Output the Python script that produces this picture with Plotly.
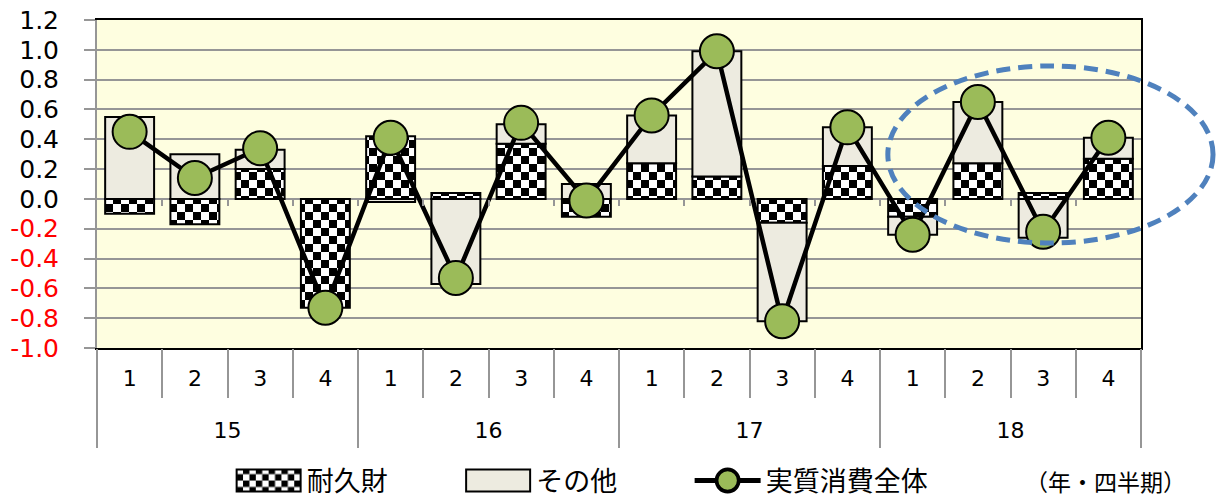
import plotly.graph_objects as go

# Quarterly contributions to real consumption growth (% pt)
years = ["15", "16", "17", "18"]
quarters = ["1", "2", "3", "4"]
durables = [-0.10, -0.17, 0.20, -0.73, 0.42, 0.04, 0.37, -0.12,
            0.24, 0.15, -0.16, 0.22, -0.12, 0.24, 0.04, 0.27]
others = [0.55, 0.30, 0.13, 0.00, -0.02, -0.57, 0.13, 0.10,
          0.32, 0.84, -0.66, 0.26, -0.12, 0.41, -0.26, 0.14]
total = [0.45, 0.14, 0.34, -0.73, 0.41, -0.53, 0.51, -0.01,
         0.56, 0.99, -0.82, 0.48, -0.24, 0.65, -0.22, 0.41]
y_ticks = [-1.0, -0.8, -0.6, -0.4, -0.2, 0.0, 0.2, 0.4, 0.6, 0.8, 1.0, 1.2]

n_q = len(quarters)
idx = list(range(len(years) * n_q))
q_text = [quarters[i % n_q] for i in idx]
bounds = [i - 0.5 for i in range(len(idx) + 1)]
year_bounds = [j * n_q - 0.5 for j in range(len(years) + 1)]
year_mid = [j * n_q + (n_q - 1) / 2 for j in range(len(years))]
x_range = [-0.5, len(idx) - 0.5]
y_range = [y_ticks[0], y_ticks[-1]]
zero_pos = (0 - y_range[0]) / (y_range[1] - y_range[0])

GRID = "#969696"
font_num = "DejaVu Sans"
font_jp = "Noto Sans CJK JP"
PAD = "\u3000\u3000\u2002"  # trailing spacing between legend entries

fig = go.Figure()
fig.add_trace(go.Bar(
    x=idx, y=durables, name="耐久財" + PAD, width=0.75,
    marker=dict(color="#ffffff",
                line=dict(color="#000000", width=2),
                pattern=dict(shape="+", fgcolor="#000000", bgcolor="#ffffff",
                             size=16, solidity=0.5, fillmode="replace")),
    hoverinfo="skip",
))
fig.add_trace(go.Bar(
    x=idx, y=others, name="その他" + PAD, width=0.75,
    marker=dict(color="#EDEBE0", line=dict(color="#000000", width=2)),
    hoverinfo="skip",
))
fig.add_trace(go.Scatter(
    x=idx, y=total, name="実質消費全体", mode="lines+markers",
    line=dict(color="#000000", width=4.5),
    marker=dict(size=34, color="#9BBB59", line=dict(color="#000000", width=2)),
    hoverinfo="skip",
))

# helper traces so the decorative overlay axes get drawn
for xa, ya in [("x2", "y"), ("x3", "y"), ("x4", "y"), ("x5", "y"), ("x", "y2")]:
    fig.add_trace(go.Scatter(
        x=x_range, y=[0, 0], xaxis=xa, yaxis=ya, mode="markers",
        marker=dict(opacity=0, size=1), showlegend=False, hoverinfo="skip",
    ))

# highlighted region of the latest year
fig.add_shape(type="circle", xref="paper", yref="paper",
              x0=0.7575, x1=1.0690, y0=0.320, y1=0.8600,
              line=dict(color="#4F81BD", width=5, dash="14px,8px"),
              layer="above")

legend_y = -0.4055
fig.add_annotation(text="（年・四半期）", xref="paper", yref="paper",
                   x=0.966, y=legend_y, xanchor="center", yanchor="middle",
                   showarrow=False, font=dict(family=font_jp, size=23, color="#000000"))

tick_text = []
for v in y_ticks:
    s = f"{v:.1f}"
    tick_text.append(f"<span style='color:#FF0000'>{s}</span>" if v < 0 else s)

common_x = dict(range=x_range, autorange=False, showgrid=False, zeroline=False,
                fixedrange=True, automargin=False)

fig.update_layout(
    width=1220, height=502,
    margin=dict(l=97, r=79, t=20, b=154, autoexpand=False),
    paper_bgcolor="#ffffff",
    plot_bgcolor="#FEFEE0",
    barmode="relative",
    showlegend=True,
    legend=dict(orientation="h", x=0.128, xanchor="left", y=legend_y, yanchor="middle",
                traceorder="normal", itemwidth=66, itemsizing="constant",
                font=dict(family=font_jp, size=27, color="#000000"),
                bgcolor="rgba(0,0,0,0)"),
    xaxis=dict(**common_x, tickmode="array", tickvals=idx, ticktext=q_text,
               ticks="", showline=True, linecolor="#000000", linewidth=2, mirror=True,
               tickfont=dict(family=font_num, size=22, color="#000000"),
               ticklabelstandoff=10),
    xaxis2=dict(**common_x, overlaying="x", anchor="y", tickmode="array",
                tickvals=bounds, ticks="outside", ticklen=49, tickwidth=2,
                tickcolor=GRID, showticklabels=False, showline=False),
    xaxis3=dict(**common_x, overlaying="x", anchor="y", tickmode="array",
                tickvals=year_bounds, ticks="outside", ticklen=99, tickwidth=2,
                tickcolor=GRID, showticklabels=False, showline=False),
    xaxis4=dict(**common_x, overlaying="x", anchor="y", tickmode="array",
                tickvals=year_mid, ticktext=years, ticks="", showline=False,
                tickfont=dict(family=font_num, size=22, color="#000000"),
                ticklabelstandoff=67),
    xaxis5=dict(**common_x, overlaying="x", anchor="free", position=zero_pos,
                tickmode="array", tickvals=bounds[1:-1], ticks="outside", ticklen=6,
                tickwidth=2, tickcolor=GRID, showticklabels=False, showline=False),
    yaxis=dict(range=y_range, autorange=False, tickmode="array", tickvals=y_ticks,
               ticktext=tick_text,
               ticks="outside", ticklen=11, tickwidth=2, tickcolor=GRID,
               showline=True, linecolor=GRID, linewidth=2,
               showgrid=True, gridcolor=GRID, gridwidth=2, zeroline=False,
               tickfont=dict(family=font_num, size=25, color="#000000"),
               ticklabelstandoff=20, fixedrange=True, automargin=False),
    yaxis2=dict(range=y_range, autorange=False, overlaying="y", side="right", anchor="x",
                showline=True, linecolor="#000000", linewidth=2,
                showgrid=False, zeroline=False, showticklabels=False, ticks="",
                fixedrange=True, automargin=False),
)

# Large checkerboard fill for the durables series and wide legend swatches
post = """
var gd = document.getElementById('{plot_id}');
function restyleFills() {
  var ns = 'http://www.w3.org/2000/svg';
  var a = 8;
  gd.querySelectorAll('pattern').forEach(function(p) {
    if (p.getAttribute('data-checker')) { return; }
    p.setAttribute('data-checker', '1');
    p.setAttribute('width', 2 * a);
    p.setAttribute('height', 2 * a);
    while (p.firstChild) { p.removeChild(p.firstChild); }
    var bg = document.createElementNS(ns, 'rect');
    bg.setAttribute('width', 2 * a); bg.setAttribute('height', 2 * a);
    bg.setAttribute('fill', '#ffffff');
    p.appendChild(bg);
    [[0, 0], [a, a]].forEach(function(o) {
      var r = document.createElementNS(ns, 'rect');
      r.setAttribute('x', o[0]); r.setAttribute('y', o[1]);
      r.setAttribute('width', a); r.setAttribute('height', a);
      r.setAttribute('fill', '#000000');
      p.appendChild(r);
    });
  });
  gd.querySelectorAll('.legendpoints path').forEach(function(p) {
    var d = p.getAttribute('d') || '';
    if (d.indexOf('M6,6H-6V-6H6Z') === 0) {
      p.setAttribute('d', 'M32,11H-32V-11H32Z');
    }
  });
  gd.querySelectorAll('.legendpoints path.scatterpts').forEach(function(p) {
    var t = p.getAttribute('transform') || '';
    if (t.indexOf('scale') < 0) { p.setAttribute('transform', t + ' scale(1.85)'); }
  });
}
restyleFills();
gd.on('plotly_afterplot', restyleFills);
[50, 200, 500, 1000, 2000].forEach(function(ms) { setTimeout(restyleFills, ms); });
"""

fig.write_html("out.html", post_script=post)
